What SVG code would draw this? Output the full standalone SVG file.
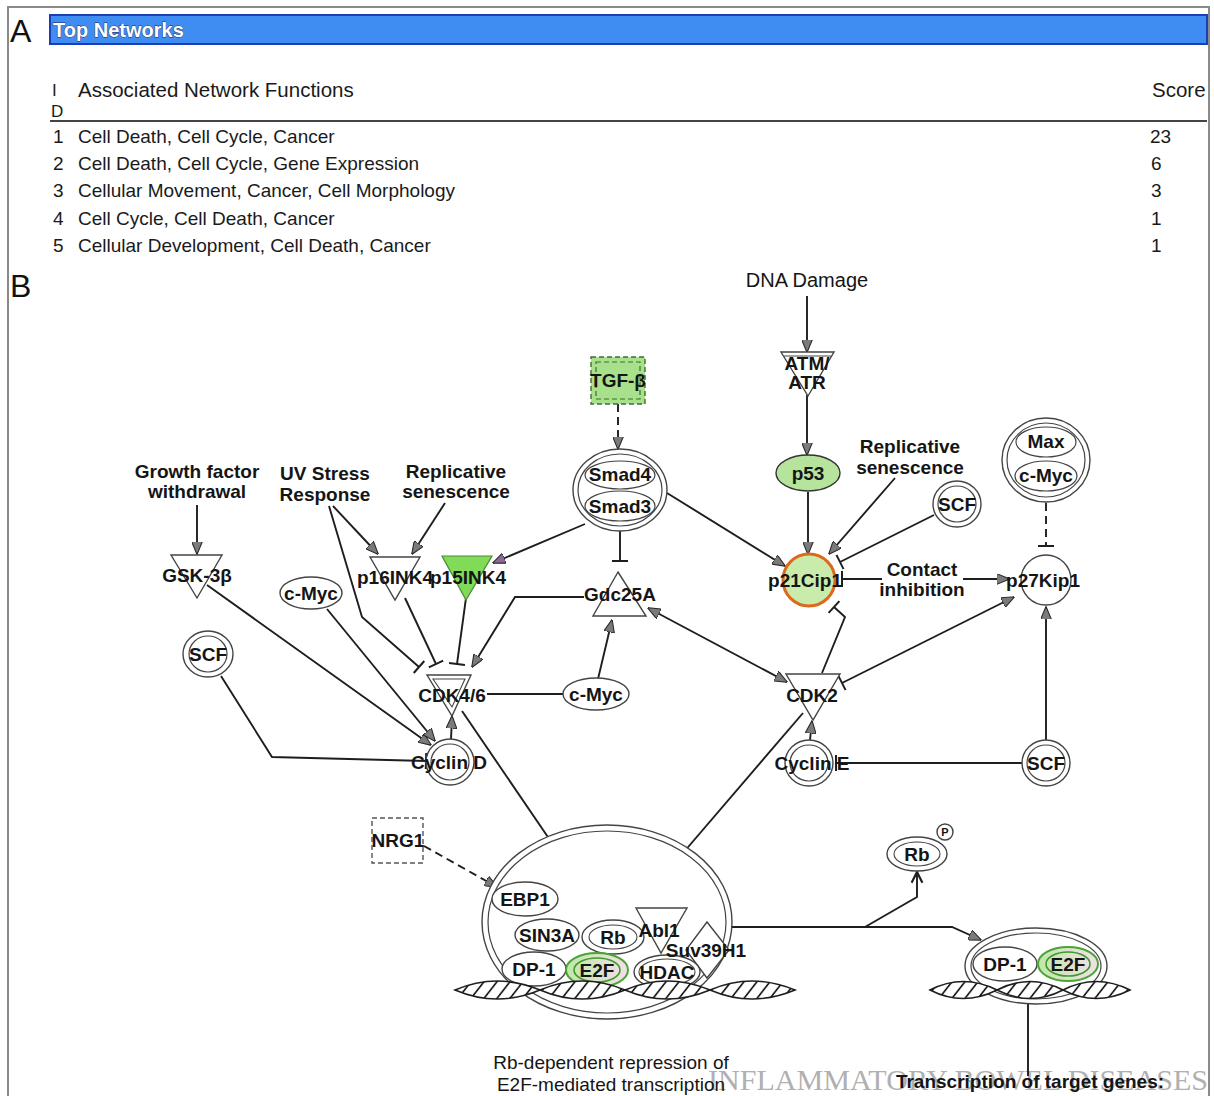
<svg xmlns="http://www.w3.org/2000/svg" width="1214" height="1096" viewBox="0 0 1214 1096">
<defs>
<style>
.tb{font-family:"Liberation Sans",Arial,sans-serif;font-size:19px;fill:#1a1a1a}
.th{font-family:"Liberation Sans",Arial,sans-serif;font-size:20.5px;fill:#1a1a1a}
.big{font-family:"Liberation Sans",Arial,sans-serif;font-size:32px;fill:#111}
.lbl{font-family:"Liberation Sans",Arial,sans-serif;font-size:19px;font-weight:bold;fill:#151515;text-anchor:middle}
.reg{font-family:"Liberation Sans",Arial,sans-serif;font-size:19px;fill:#151515;text-anchor:middle}
.nd{fill:#fff;stroke:#444;stroke-width:1.4}
.e{fill:none;stroke:#1e1e1e;stroke-width:1.9}
.d{stroke-dasharray:8 5}
.hx{fill:url(#hatch);stroke:#1e1e1e;stroke-width:1.6}
</style>
<marker id="arr" viewBox="0 0 12 10" refX="11.5" refY="5" markerWidth="13" markerHeight="11" markerUnits="userSpaceOnUse" orient="auto-start-reverse"><path d="M0,0 L12,5 L0,10 Z" fill="#7b7b7b" stroke="#2a2a2a" stroke-width="1"/></marker>
<marker id="arrP" viewBox="0 0 12 10" refX="11.5" refY="5" markerWidth="13" markerHeight="11" markerUnits="userSpaceOnUse" orient="auto"><path d="M0,0 L12,5 L0,10 Z" fill="#8a6a9a" stroke="#2a2a2a" stroke-width="1"/></marker>
<marker id="tee" viewBox="0 0 4 16" refX="2" refY="8" markerWidth="4" markerHeight="16" markerUnits="userSpaceOnUse" orient="auto"><path d="M2,0 V16" stroke="#1e1e1e" stroke-width="2"/></marker>
<marker id="open" viewBox="0 0 12 12" refX="11" refY="6" markerWidth="13" markerHeight="13" markerUnits="userSpaceOnUse" orient="auto"><path d="M1,1 L11,6 L1,11" fill="none" stroke="#1e1e1e" stroke-width="2"/></marker>
<pattern id="hatch" patternUnits="userSpaceOnUse" width="13" height="24" patternTransform="skewX(-38)"><rect width="13" height="24" fill="#fff"/><line x1="3" y1="0" x2="3" y2="24" stroke="#1e1e1e" stroke-width="2.2"/></pattern>
<linearGradient id="e2f" x1="0" x2="1" y1="0" y2="0"><stop offset="0" stop-color="#bfe8a8"/><stop offset="1" stop-color="#f3dfe8"/></linearGradient>
</defs>
<rect width="1214" height="1096" fill="#fff"/>
<rect x="8" y="7" width="1201" height="1100" fill="none" stroke="#8a8a8a" stroke-width="2"/>

<!-- Panel A -->
<g id="panelA">
<text class="big" x="10" y="42">A</text>
<rect x="50" y="15" width="1157" height="29" fill="#3f8df2" stroke="#1b3db5" stroke-width="2"/>
<text x="53" y="37" font-family="Liberation Sans,Arial,sans-serif" font-size="20" font-weight="bold" fill="#fff" stroke="#1a2a66" stroke-width="0.8" paint-order="stroke">Top Networks</text>
<text class="tb" x="52" y="96" style="font-size:17px">I</text>
<text class="tb" x="51" y="117" style="font-size:17px">D</text>
<text class="th" x="78" y="97">Associated Network Functions</text>
<text class="th" x="1152" y="97">Score</text>
<line x1="50" y1="121" x2="1207" y2="121" stroke="#444" stroke-width="2"/>
<text class="tb" x="53" y="143">1</text><text class="tb" x="78" y="143">Cell Death, Cell Cycle, Cancer</text><text class="tb" x="1150" y="143">23</text>
<text class="tb" x="53" y="170">2</text><text class="tb" x="78" y="170">Cell Death, Cell Cycle, Gene Expression</text><text class="tb" x="1151" y="170">6</text>
<text class="tb" x="53" y="197">3</text><text class="tb" x="78" y="197">Cellular Movement, Cancer, Cell Morphology</text><text class="tb" x="1151" y="197">3</text>
<text class="tb" x="53" y="225">4</text><text class="tb" x="78" y="225">Cell Cycle, Cell Death, Cancer</text><text class="tb" x="1151" y="225">1</text>
<text class="tb" x="53" y="252">5</text><text class="tb" x="78" y="252">Cellular Development, Cell Death, Cancer</text><text class="tb" x="1151" y="252">1</text>
<text class="big" x="10" y="297">B</text>
</g>

<!-- watermark -->
<text x="708" y="1090" font-family="Liberation Serif,Times New Roman,serif" font-size="30" fill="#b0b0b0" textLength="500" lengthAdjust="spacingAndGlyphs">INFLAMMATORY BOWEL DISEASES</text>

<!-- connectors -->
<g id="connectors">
<path class="e" d="M807,296 L807,352" marker-end="url(#arr)"/>
<path class="e" d="M807,395 L807,455" marker-end="url(#arr)"/>
<path class="e" d="M808,492 L808,554" marker-end="url(#arr)"/>
<path class="e d" d="M618,404 L618,449" marker-end="url(#arr)"/>
<path class="e" d="M667,493 L785,566" marker-end="url(#arr)"/>
<path class="e" d="M585,524 L493,563" marker-end="url(#arrP)"/>
<path class="e" d="M620,530 L620,561" marker-end="url(#tee)"/>
<path class="e" d="M895,478 L829,554" marker-end="url(#arr)"/>
<path class="e" d="M934,515 L840,562" marker-end="url(#tee)"/>
<path class="e" d="M882,579 L842,579" marker-end="url(#tee)"/>
<path class="e" d="M963,579 L1009,579" marker-end="url(#arr)"/>
<path class="e d" d="M1046,503 L1046,546" marker-end="url(#tee)"/>
<path class="e" d="M842,683 L1014,597" marker-start="url(#tee)" marker-end="url(#arr)"/>
<path class="e" d="M822,673 L845,617 L834,607" marker-end="url(#tee)"/>
<path class="e" d="M648,608 L787,682" marker-start="url(#arr)" marker-end="url(#arr)"/>
<path class="e" d="M1046,740 L1046,607" marker-end="url(#arr)"/>
<path class="e" d="M1023,763 L836,763" marker-end="url(#tee)"/>
<path class="e" d="M810,740 L812,721" marker-end="url(#arr)"/>
<path class="e" d="M803,713 L683,853"/>
<path class="e" d="M598,679 L612,620" marker-end="url(#arr)"/>
<path class="e" d="M563,694 L487,694"/>
<path class="e" d="M584,597 L515,597 L472,667" marker-end="url(#arr)"/>
<path class="e" d="M333,506 L378,554" marker-end="url(#arr)"/>
<path class="e" d="M445,503 L412,554" marker-end="url(#arr)"/>
<path class="e" d="M197,505 L197,554" marker-end="url(#arr)"/>
<path class="e" d="M329,506 L362,617 L419,667" marker-end="url(#tee)"/>
<path class="e" d="M405,598 L436,664" marker-end="url(#tee)"/>
<path class="e" d="M466,598 L457,664" marker-end="url(#tee)"/>
<path class="e" d="M207,585 L431,745" marker-end="url(#arr)"/>
<path class="e" d="M327,609 L435,741" marker-end="url(#arr)"/>
<path class="e" d="M221,676 L272,757 L426,761" marker-end="url(#tee)"/>
<path class="e" d="M451,740 L452,716" marker-end="url(#arr)"/>
<path class="e" d="M462,711 L552,843"/>
<path class="e d" d="M424,846 L497,887" marker-end="url(#arr)"/>
<path class="e" d="M731,927 L952,927 L981,940" marker-end="url(#arr)"/>
<path class="e" d="M865,927 L917,897 L917,872" marker-end="url(#open)"/>
<path class="e" d="M1028,1004 L1028,1076"/>
</g>

<!-- text-only nodes -->
<g id="n-dna"><text class="reg" x="807" y="287" style="font-size:20px">DNA Damage</text></g>
<g id="n-growth"><text class="lbl" x="197" y="478">Growth factor</text><text class="lbl" x="197" y="498">withdrawal</text></g>
<g id="n-uv"><text class="lbl" x="325" y="480">UV Stress</text><text class="lbl" x="325" y="501">Response</text></g>
<g id="n-repl1"><text class="lbl" x="456" y="478">Replicative</text><text class="lbl" x="456" y="498">senescence</text></g>
<g id="n-repl2"><text class="lbl" x="910" y="453">Replicative</text><text class="lbl" x="910" y="474">senescence</text></g>
<g id="n-contact"><text class="lbl" x="922" y="576">Contact</text><text class="lbl" x="922" y="596">inhibition</text></g>

<!-- nodes -->
<g id="n-atm"><path class="nd" d="M781,352 L834,352 L808,396 Z"/><line x1="784" y1="356" x2="831" y2="356" stroke="#444" stroke-width="1"/><text class="lbl" x="807" y="370">ATM/</text><text class="lbl" x="807" y="389">ATR</text></g>
<g id="n-p53"><ellipse cx="808" cy="473" rx="32" ry="18" fill="#b6e49c" stroke="#333" stroke-width="1.4"/><text class="lbl" x="808" y="480">p53</text></g>
<g id="n-tgf"><rect x="591" y="357" width="54" height="47" fill="#a9e08c" stroke="#3b6f2b" stroke-width="1.4" stroke-dasharray="5 3"/><rect x="596" y="362" width="44" height="37" fill="none" stroke="#3b6f2b" stroke-width="1.2" stroke-dasharray="5 3"/><text class="lbl" x="618" y="387">TGF-β</text></g>
<g id="n-smad"><ellipse class="nd" cx="620" cy="490" rx="47" ry="41"/><ellipse cx="620" cy="490" rx="42" ry="36" fill="none" stroke="#444" stroke-width="1.2"/><ellipse cx="620" cy="475" rx="35" ry="14" fill="none" stroke="#444" stroke-width="1.2"/><ellipse cx="620" cy="506" rx="35" ry="15" fill="none" stroke="#444" stroke-width="1.2"/><text class="lbl" x="620" y="481">Smad4</text><text class="lbl" x="620" y="513">Smad3</text></g>
<g id="n-p21"><ellipse cx="809" cy="580" rx="26" ry="26" fill="#c9ebab" stroke="#dd6a1c" stroke-width="3"/><text class="lbl" x="805" y="587">p21Cip1</text></g>
<g id="n-scf1"><ellipse class="nd" cx="957" cy="504" rx="24" ry="23"/><ellipse cx="957" cy="504" rx="19" ry="18" fill="none" stroke="#444" stroke-width="1.2"/><text class="lbl" x="957" y="511">SCF</text></g>
<g id="n-max"><ellipse class="nd" cx="1046" cy="460" rx="44" ry="42"/><ellipse cx="1046" cy="460" rx="39" ry="37" fill="none" stroke="#444" stroke-width="1.2"/><ellipse cx="1046" cy="442" rx="30" ry="15" fill="none" stroke="#444" stroke-width="1.2"/><ellipse cx="1046" cy="476" rx="31" ry="15" fill="none" stroke="#444" stroke-width="1.2"/><text class="lbl" x="1046" y="448">Max</text><text class="lbl" x="1046" y="482">c-Myc</text></g>
<g id="n-p27"><circle class="nd" cx="1046" cy="580" r="25"/><text class="lbl" x="1043" y="587">p27Kip1</text></g>
<g id="n-gsk"><path class="nd" d="M171,555 L222,555 L197,598 Z"/><text class="lbl" x="197" y="582">GSK-3β</text></g>
<g id="n-p16"><path class="nd" d="M370,557 L420,557 L395,600 Z"/><text class="lbl" x="395" y="584">p16INK4</text></g>
<g id="n-p15"><path d="M442,556 L492,556 L466,600 Z" fill="#7fdb58" stroke="#4a8a35" stroke-width="1.2"/><text class="lbl" x="468" y="584">p15INK4</text></g>
<g id="n-cmyc1"><ellipse class="nd" cx="311" cy="593" rx="31" ry="16"/><text class="lbl" x="311" y="600">c-Myc</text></g>
<g id="n-gdc"><path class="nd" d="M618,572 L646,616 L593,616 Z"/><text class="lbl" x="620" y="601">Gdc25A</text></g>
<g id="n-cmyc2"><ellipse class="nd" cx="596" cy="694" rx="33" ry="16"/><text class="lbl" x="596" y="701">c-Myc</text></g>
<g id="n-cdk46"><path class="nd" d="M427,675 L471,675 L452,716 Z"/><path d="M433,679 L465,679 L452,707 Z" fill="none" stroke="#444" stroke-width="1.1"/><text class="lbl" x="452" y="702">CDK4/6</text></g>
<g id="n-cdk2"><path class="nd" d="M786,674 L840,674 L813,720 Z"/><text class="lbl" x="812" y="702">CDK2</text></g>
<g id="n-scf2"><ellipse class="nd" cx="208" cy="654" rx="25" ry="23"/><ellipse cx="208" cy="654" rx="19" ry="18" fill="none" stroke="#444" stroke-width="1.2"/><text class="lbl" x="208" y="661">SCF</text></g>
<g id="n-cycd"><ellipse class="nd" cx="450" cy="762" rx="24" ry="23"/><ellipse cx="450" cy="762" rx="19" ry="18" fill="none" stroke="#444" stroke-width="1.2"/><text class="lbl" x="449" y="769">Cyclin D</text></g>
<g id="n-cyce"><ellipse class="nd" cx="809" cy="763" rx="24" ry="23"/><ellipse cx="809" cy="763" rx="19" ry="18" fill="none" stroke="#444" stroke-width="1.2"/><text class="lbl" x="812" y="770">Cyclin E</text></g>
<g id="n-scf3"><ellipse class="nd" cx="1046" cy="763" rx="24" ry="23"/><ellipse cx="1046" cy="763" rx="19" ry="18" fill="none" stroke="#444" stroke-width="1.2"/><text class="lbl" x="1046" y="770">SCF</text></g>
<g id="n-nrg1"><rect x="372" y="818" width="51" height="45" fill="#fff" stroke="#555" stroke-width="1.4" stroke-dasharray="5 3"/><text class="lbl" x="398" y="847">NRG1</text></g>

<!-- Rb repression complex -->
<g id="n-complex">
<ellipse class="nd" cx="607" cy="922" rx="125" ry="97"/>
<ellipse cx="607" cy="922" rx="119" ry="91" fill="none" stroke="#444" stroke-width="1.2"/>
<ellipse class="nd" cx="525" cy="899" rx="33" ry="17"/><text class="lbl" x="525" y="906">EBP1</text>
<ellipse class="nd" cx="547" cy="935" rx="32" ry="16"/><text class="lbl" x="547" y="942">SIN3A</text>
<ellipse class="nd" cx="613" cy="937" rx="31" ry="17"/><ellipse cx="613" cy="937" rx="24" ry="12" fill="none" stroke="#444" stroke-width="1.1"/><text class="lbl" x="613" y="944">Rb</text>
<path class="nd" d="M636,908 L687,908 L661,953 Z"/><text class="lbl" x="659" y="937">Abl1</text>
<path class="nd" d="M707,922 L729,950 L707,978 L686,950 Z"/>
<ellipse class="nd" cx="534" cy="969" rx="32" ry="17"/><text class="lbl" x="534" y="976">DP-1</text>
<ellipse cx="597" cy="970" rx="31" ry="17" fill="url(#e2f)" stroke="#4aa535" stroke-width="2"/><ellipse cx="597" cy="970" rx="23" ry="12" fill="none" stroke="#3f9a2d" stroke-width="1.6"/><text class="lbl" x="597" y="977">E2F</text>
<ellipse class="nd" cx="667" cy="972" rx="33" ry="17"/><ellipse cx="667" cy="972" rx="28" ry="13" fill="none" stroke="#444" stroke-width="1.1"/><text class="lbl" x="667" y="979">HDAC</text>
<text class="lbl" x="706" y="957">Suv39H1</text>
</g>
<g id="dna1">
<path class="hx" d="M455,990 Q497,972 540,990 Q497,1008 455,990 Z"/>
<path class="hx" d="M540,990 Q582,972 625,990 Q582,1008 540,990 Z"/>
<path class="hx" d="M625,990 Q667,972 710,990 Q667,1008 625,990 Z"/>
<path class="hx" d="M710,990 Q752,972 795,990 Q752,1008 710,990 Z"/>
</g>
<g id="n-rbp"><ellipse class="nd" cx="917" cy="854" rx="30" ry="17"/><ellipse cx="917" cy="854" rx="23" ry="12" fill="none" stroke="#444" stroke-width="1.1"/><text class="lbl" x="917" y="861">Rb</text><circle class="nd" cx="945" cy="832" r="8"/><text x="945" y="836" font-family="Liberation Sans,Arial,sans-serif" font-size="11" font-weight="bold" text-anchor="middle" fill="#151515">P</text></g>
<g id="n-dpe2f">
<ellipse class="nd" cx="1036" cy="966" rx="71" ry="38"/>
<ellipse cx="1036" cy="966" rx="65" ry="33" fill="none" stroke="#444" stroke-width="1.2"/>
<ellipse class="nd" cx="1005" cy="964" rx="32" ry="17"/><text class="lbl" x="1005" y="971">DP-1</text>
<ellipse cx="1068" cy="964" rx="30" ry="17" fill="url(#e2f)" stroke="#4aa535" stroke-width="2"/><ellipse cx="1068" cy="964" rx="22" ry="12" fill="none" stroke="#3f9a2d" stroke-width="1.6"/><text class="lbl" x="1068" y="971">E2F</text>
</g>
<g id="dna2">
<path class="hx" d="M930,990 Q963,973 997,990 Q963,1007 930,990 Z"/>
<path class="hx" d="M997,990 Q1030,973 1063,990 Q1030,1007 997,990 Z"/>
<path class="hx" d="M1063,990 Q1096,973 1130,990 Q1096,1007 1063,990 Z"/>
</g>
<g id="captions">
<text class="reg" x="611" y="1069">Rb-dependent repression of</text>
<text class="reg" x="611" y="1091">E2F-mediated transcription</text>
<text class="lbl" x="1030" y="1088">Transcription of target genes:</text>
</g>
</svg>
